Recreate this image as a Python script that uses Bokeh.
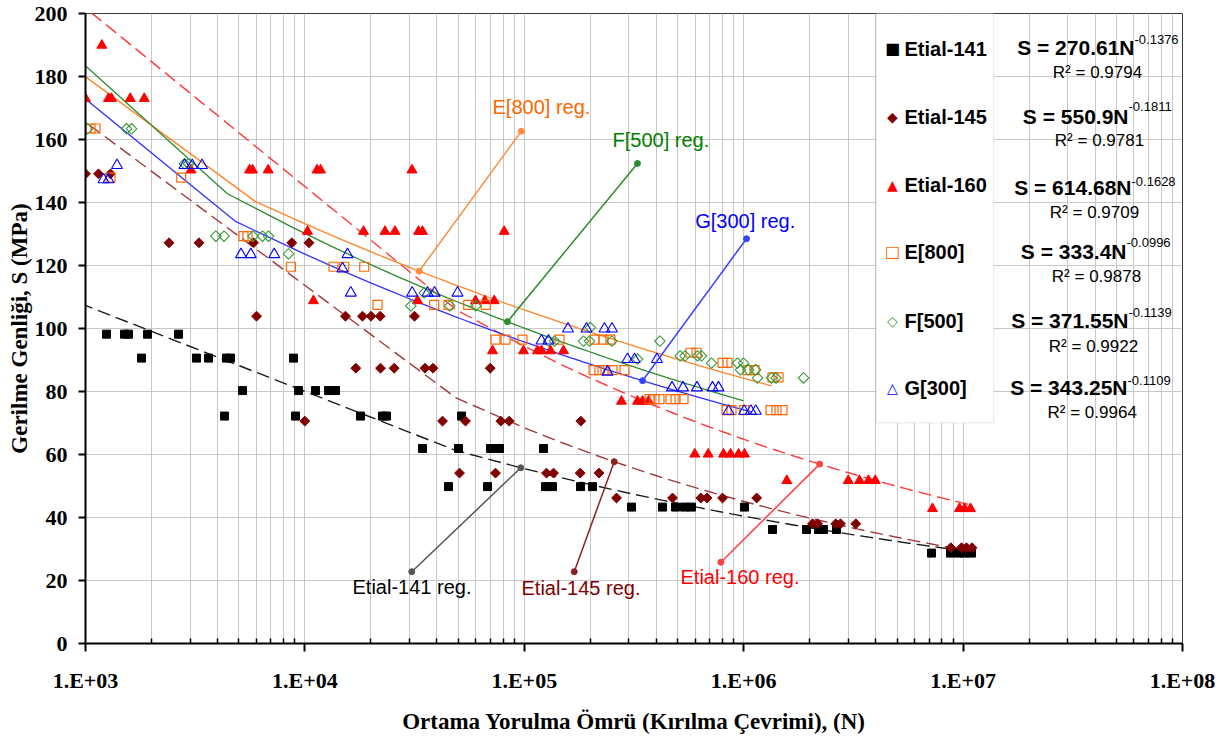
import math
from bokeh.plotting import figure
from bokeh.models import Range1d, FixedTicker, CustomJSTickFormatter, Label, BoxAnnotation
from bokeh.embed import file_html
from bokeh.resources import INLINE

# ---------------- data ----------------
series_names = ["Etial-141", "Etial-145", "Etial-160", "E[800]", "F[500]", "G[300]"]

e141_N = [1246, 1506, 1570, 1917, 2654,
          1800, 3205, 3636, 4391, 4580, 8872,
          5195, 9350, 11180, 12810, 13790,
          4300, 9062, 17920, 22580, 23540, 51730,
          34360, 50130, 70150, 73140, 77090, 122300,
          45130, 67990, 124900, 134500, 180400, 204600,
          308000, 426600, 489000, 537400, 578200, 1008000,
          1353000, 1933000, 2192000, 2311000, 2649000,
          7178000, 8762000, 9528000, 10150000, 10920000]
e141_S = [98.2] * 5 + [90.6] * 6 + [80.3] * 5 + [72.2] * 6 + [61.9] * 6 + \
         [49.8] * 6 + [43.3] * 6 + [36.2] * 5 + [28.7] * 5

e145_N = [1000, 1146, 1300,
          2402, 3291, 5833, 8716, 10440,
          6020, 15310, 18300, 20010, 22040, 31590,
          17060, 22110, 25530, 35270, 38360, 69940,
          9990, 42390, 53950, 78140, 85340, 180900,
          50660, 73910, 126200, 135900, 179800, 219000,
          263200, 473800, 637600, 680400, 800700, 1146000,
          2059000, 2170000, 2629000, 2762000, 3243000,
          8788000, 9833000, 10360000, 10980000]
e145_S = [149.1] * 3 + [127.2] * 5 + [103.9] * 6 + [87.4] * 6 + [70.6] * 6 + \
         [54.1] * 6 + [46.2] * 6 + [38.0] * 5 + [30.4] * 4

e160_N = [1187,
          1000, 1273, 1314, 1599, 1852,
          3026, 5591, 5770, 6803, 11360, 11780, 30770,
          10280, 18500, 23180, 25740, 32950, 34360, 80970,
          10940, 32600, 59930, 66070, 72930,
          71640, 99170, 114900, 119800, 131700, 150900,
          277300, 328100, 345700, 368200,
          598500, 689000, 809000, 870800, 947000, 1008000,
          1572000, 2995000, 3372000, 3706000, 3976000,
          7253000, 9630000, 10150000, 10810000]
e160_S = [189.9] + [173.0] * 5 + [150.3] * 7 + [130.8] * 7 + [108.8] * 5 + \
         [92.9] * 6 + [76.9] * 4 + [60.1] * 6 + [51.7] * 5 + [42.8] * 4

e800_N = [1054, 1111,
          1300, 2731,
          5249, 5474,
          8643, 13500, 15110, 18640,
          21420, 38850, 45130, 55500, 66760,
          73910, 82090, 98130, 144700, 208900, 229600, 247100,
          572200, 609500,
          800700, 843900,
          206800, 220100, 234500, 252400, 286200, 1041000, 1120000,
          1353000, 1441000,
          372100, 392100, 413200, 463900, 489000, 531700,
          835000, 880000, 1005000, 1325000, 1411000, 1503000]
e800_S = [163.5] * 2 + [147.9] * 2 + [129.3] * 2 + [119.6] * 4 + [107.5] * 5 + \
         [96.5] * 7 + [92.3] * 2 + [89.1] * 2 + [86.8] * 7 + [84.5] * 2 + \
         [77.6] * 6 + [74.1] * 6

f500_N = [1021, 1538, 1621,
          2827, 2947,
          3926, 4279, 5801, 6409, 6825,
          8421,
          34980,
          30390, 45750, 60110,
          199700,
          128900, 137300, 186200, 198300, 250600, 414600,
          513600, 540100, 615900, 642300,
          328100,
          713200, 936900, 998000,
          967000, 1052000, 1132000,
          1156000, 1339000, 1404000, 1874000]
f500_S = [163.4] * 3 + [152.3] * 2 + [129.3] * 5 + [123.7] + [111.3] + [107.2] * 3 + \
         [100.3] + [96.0] * 6 + [91.3] * 4 + [90.3] + [89.0] * 3 + [86.9] * 3 + [84.3] * 4

g300_N = [1208, 1273,
          1392, 2827, 3064, 3396,
          5114, 5668, 7246, 15640,
          14840,
          16190, 30830, 36220, 38970, 49610,
          158200, 192100, 232000, 251000,
          119800, 128900,
          295400, 318000, 402500,
          239400,
          471300, 528900, 612600, 720800, 767600,
          852700, 1005000, 1078000, 1135000]
g300_S = [147.3] * 2 + [151.8] * 4 + [123.5] * 4 + [119.0] + [111.3] * 5 + [99.9] * 4 + \
         [96.1] * 2 + [90.2] * 3 + [86.2] + [81.2] * 5 + [73.8] * 4

# power-law fits shown on the chart: S = a * N^b
fit_a = [270.61, 550.9, 614.68, 333.4, 371.55, 343.25]
fit_b = [-0.1376, -0.1811, -0.1628, -0.0996, -0.1139, -0.1109]
fit_r2 = ["0.9794", "0.9781", "0.9709", "0.9878", "0.9922", "0.9964"]

# axis tick values
x_ticks = [1e3, 1e4, 1e5, 1e6, 1e7, 1e8]
y_ticks = list(range(0, 201, 20))

# ---------------- styling ----------------
mk_color = ["#000000", "#800000", "#FF0000", "#FF6600", "#3A9A3A", "#0000FF"]
ln_color = ["#1A1A1A", "#A03A3A", "#FF3A3A", "#FF8426", "#2E8B2E", "#3333FF"]
txt_color = ["#000000", "#800000", "#FF0000", "#FF6600", "#008000", "#0000FF"]

# Excel-like polyline sampling of the trendlines (linear spacing in N)
trend_start = [450, 400, 780, 1, 1, 1]
trend_end = [1.1e7, 1.1e7, 1.1e7, 1.34e6, 0.998e6, 1.087e6]
NSEG = 225

SERIF = "Liberation Serif"
SANS = "Liberation Sans"

p = figure(x_axis_type="log",
           x_range=Range1d(1e3, 1e8), y_range=Range1d(0, 200),
           width=1216, height=737,
           min_border_left=85, min_border_right=34,
           min_border_top=13, min_border_bottom=94,
           output_backend="svg", toolbar_location=None)
p.background_fill_color = "white"
p.border_fill_color = "white"
p.outline_line_color = "#3A3A3A"
p.outline_line_width = 1

# axes
minor = [k * 10 ** d for d in range(3, 8) for k in range(2, 10)]
p.xaxis.ticker = FixedTicker(ticks=x_ticks, minor_ticks=minor)
p.xaxis.formatter = CustomJSTickFormatter(code="""
const e = Math.round(Math.log10(tick));
return '1.E+' + (e < 10 ? '0' + e : '' + e);
""")
p.yaxis.ticker = FixedTicker(ticks=y_ticks, minor_ticks=[])

for ax in (p.xaxis[0], p.yaxis[0]):
    ax.axis_line_color = "black"
    ax.axis_line_width = 2
    ax.major_tick_line_color = "black"
    ax.major_tick_line_width = 2
    ax.major_tick_in = 0
    ax.major_label_text_font = SERIF
    ax.major_label_text_font_style = "bold"
    ax.major_label_text_font_size = "22px"
    ax.major_label_text_color = "black"
    ax.axis_label_text_font = SERIF
    ax.axis_label_text_font_style = "bold"
    ax.axis_label_text_font_size = "23px"
    ax.axis_label_text_color = "black"

p.xaxis.major_tick_out = 8
p.xaxis.minor_tick_in = 5
p.xaxis.minor_tick_out = 0
p.xaxis.minor_tick_line_color = "black"
p.xaxis.minor_tick_line_width = 1.5
p.xaxis.major_label_standoff = 16
p.xaxis.axis_label = "Ortama Yorulma Ömrü (Kırılma Çevrimi), (N)"
p.xaxis.axis_label_standoff = 13

p.yaxis.major_tick_out = 7
p.yaxis.minor_tick_in = 0
p.yaxis.minor_tick_out = 0
p.yaxis.major_label_standoff = 11
p.yaxis.axis_label = "Gerilme Genliği, S (MPa)"
p.yaxis.axis_label_standoff = 0

# grid
p.xgrid.grid_line_color = "#C8C8C8"
p.xgrid.minor_grid_line_color = "#C8C8C8"
p.ygrid.grid_line_color = "#C8C8C8"
p.xgrid.grid_line_width = 1
p.ygrid.grid_line_width = 1

# trendlines
for i in range(6):
    n0, n1 = trend_start[i], trend_end[i]
    xs = [n0] + [n1 * k / NSEG for k in range(1, NSEG + 1) if n1 * k / NSEG > n0]
    ys = [fit_a[i] * x ** fit_b[i] for x in xs]
    if i < 3:
        p.line(xs, ys, line_color=ln_color[i], line_width=1.4, line_dash="13 6")
    else:
        p.line(xs, ys, line_color=ln_color[i], line_width=1.3)

# data points
p.scatter(e141_N, e141_S, marker="square", size=8, fill_color=mk_color[0], line_color=mk_color[0])
p.scatter(e145_N, e145_S, marker="square", angle=math.pi / 4, size=7,
          fill_color=mk_color[1], line_color=mk_color[1])
p.scatter(e160_N, e160_S, marker="triangle", size=10, fill_color=mk_color[2], line_color=mk_color[2])
p.scatter(e800_N, e800_S, marker="square", size=9, fill_color=None, line_color=mk_color[3], line_width=1.2)
p.scatter(f500_N, f500_S, marker="square", angle=math.pi / 4, size=7.5,
          fill_color=None, line_color=mk_color[4], line_width=1.1)
p.scatter(g300_N, g300_S, marker="triangle", size=11, fill_color=None, line_color=mk_color[5], line_width=1.1)

# callouts for the regression lines: (N on the line) and label end (N, S)
call_on_N = [96400, 257000, 2.22e6, 33200, 83800, 346000]
call_end_N = [30700, 168900, 787000, 96900, 328000, 1.03e6]
call_end_S = [22.8, 22.8, 25.8, 162.6, 152.4, 128.5]
call_color = ["#555555", "#8B2222", "#FF4040", "#FF8C40", "#2E8B2E", "#3344FF"]
for i in range(6):
    s_on = fit_a[i] * call_on_N[i] ** fit_b[i]
    p.line([call_on_N[i], call_end_N[i]], [s_on, call_end_S[i]], line_color=call_color[i], line_width=1.5)
    p.scatter([call_on_N[i], call_end_N[i]], [s_on, call_end_S[i]], marker="circle", size=6,
              fill_color=call_color[i], line_color=call_color[i])

# callout texts (screen units relative to frame bottom-left)
call_txt_xy = [(267, 57), (436, 55.7), (595, 66.7), (407, 536.7), (527, 504), (609.7, 423)]
for i in range(6):
    p.add_layout(Label(x=call_txt_xy[i][0], y=call_txt_xy[i][1], x_units="screen", y_units="screen",
                       text=series_names[i] + " reg.", text_font=SANS, text_font_size="20px",
                       text_color=txt_color[i], text_align="left", text_baseline="middle"))

# legend box
p.add_layout(BoxAnnotation(left=791, right=908, top=630, bottom=220.7,
                           left_units="screen", right_units="screen",
                           top_units="screen", bottom_units="screen",
                           fill_color="white", fill_alpha=1.0,
                           line_color="#C0C0C0", line_width=1.2))

leg_y = [595, 527, 459, 392, 323, 256]
leg_sym = ["\u25A0", "\u25C6", "\u25B2", "\u25A1", "\u25C7", "\u25B3"]
leg_sym_size = ["16px", "14px", "14px", "16px", "14px", "14px"]
for i in range(6):
    p.add_layout(Label(x=807, y=leg_y[i], x_units="screen", y_units="screen",
                       text=leg_sym[i], text_font="DejaVu Sans", text_font_size=leg_sym_size[i],
                       text_color=mk_color[i], text_align="center", text_baseline="middle"))
    p.add_layout(Label(x=819, y=leg_y[i], x_units="screen", y_units="screen",
                       text=series_names[i], text_font=SANS, text_font_size="20px",
                       text_font_style="bold", text_color="black",
                       text_align="left", text_baseline="middle"))

# equations
eq_x = [1049, 1043, 1046, 1041, 1043, 1042]
eq_y = [595.7, 527.3, 455.7, 392.3, 323, 255.7]
sup_y = [604, 536.7, 462.3, 400.7, 330.7, 263]
r2_x = [1012, 1014, 1009, 1011, 1008, 1006.7]
r2_y = [570.7, 503, 430.7, 367.3, 297.3, 230.7]
for i in range(6):
    p.add_layout(Label(x=eq_x[i], y=eq_y[i], x_units="screen", y_units="screen",
                       text="S = " + str(fit_a[i]) + "N", text_font=SANS, text_font_size="21px",
                       text_font_style="bold", text_color="black",
                       text_align="right", text_baseline="middle"))
    p.add_layout(Label(x=eq_x[i], y=sup_y[i], x_units="screen", y_units="screen",
                       text=str(fit_b[i]), text_font=SANS, text_font_size="13px",
                       text_color="black", text_align="left", text_baseline="middle"))
    p.add_layout(Label(x=r2_x[i], y=r2_y[i], x_units="screen", y_units="screen",
                       text="R\u00B2 = " + fit_r2[i], text_font=SANS, text_font_size="17px",
                       text_color="black", text_align="center", text_baseline="middle"))

open("out.html", "w").write(file_html(p, INLINE))
